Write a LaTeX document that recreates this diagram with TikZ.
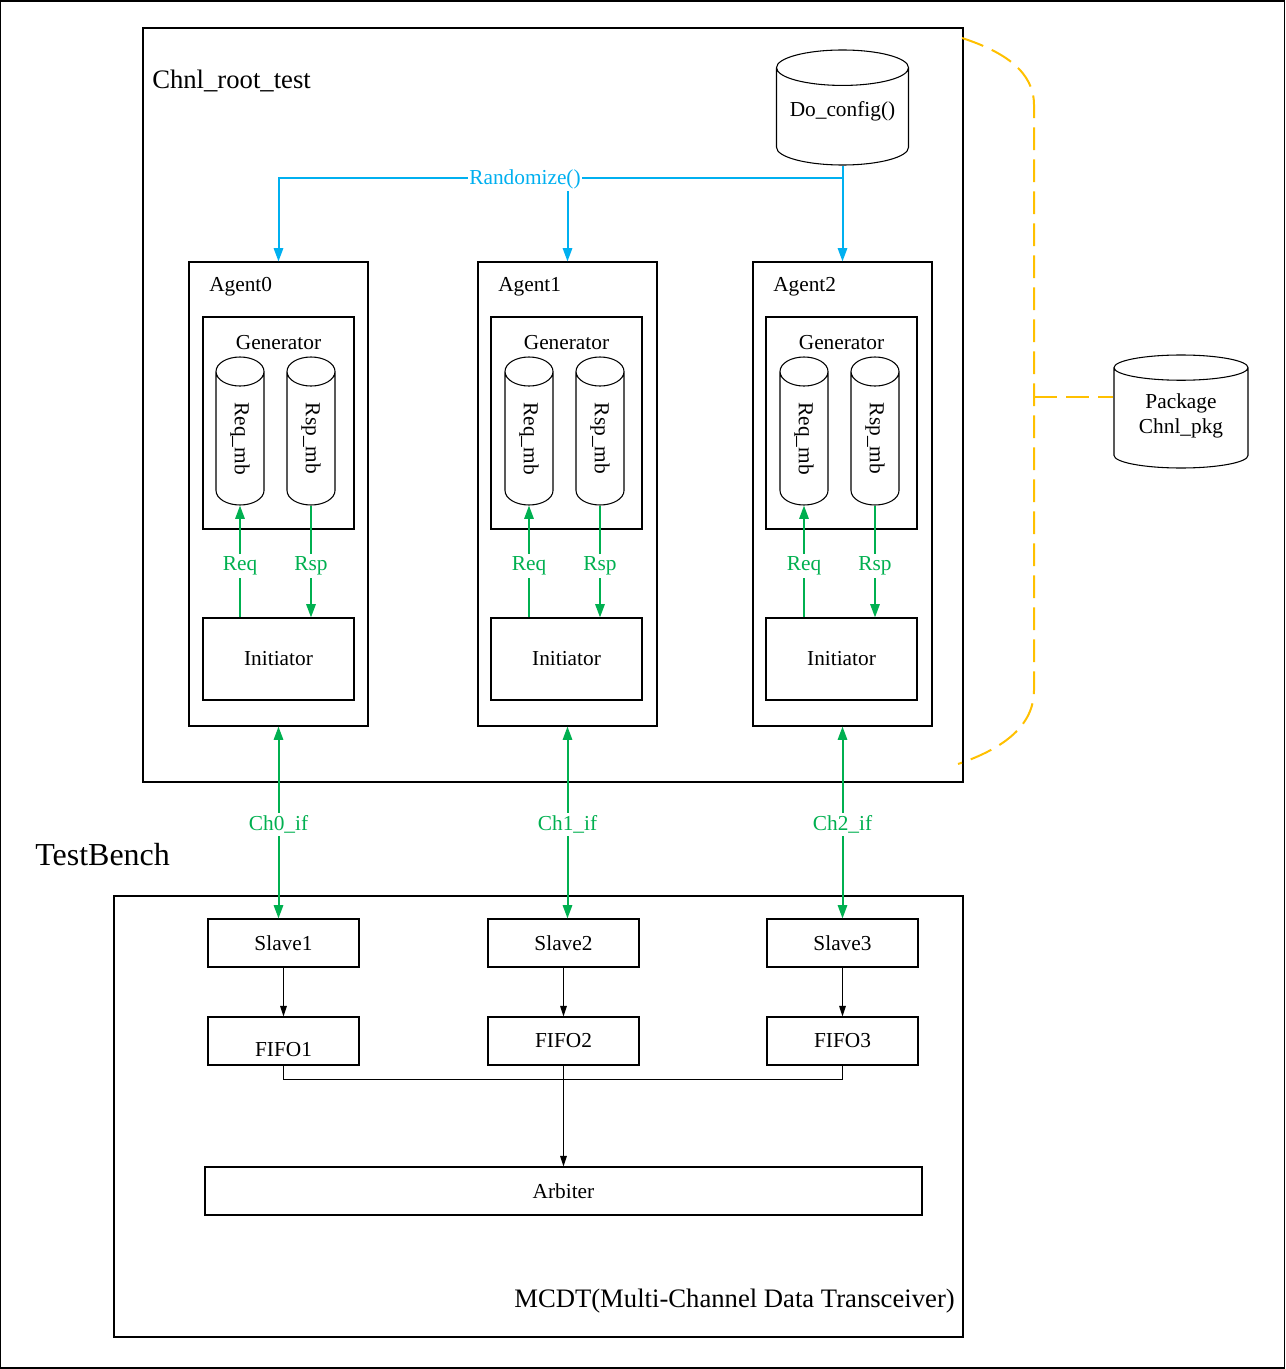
\documentclass[tikz,border=0pt]{standalone}
\usepackage{fontspec}
\usepackage{graphicx}
\setmainfont{Liberation Serif}
\usetikzlibrary{shapes.geometric,arrows.meta}
\definecolor{cfgblue}{HTML}{00B0F0}
\definecolor{sigreen}{HTML}{00B050}
\definecolor{pkgyellow}{HTML}{FFC000}

\begin{document}
\begin{tikzpicture}[
    x=0.75pt, y=-0.75pt,
    font=\fontsize{16}{19}\selectfont,
    frame/.style={draw, line width=0.8pt, inner sep=0pt},
    agentbox/.style={frame, minimum width=134.25pt, minimum height=348pt},
    genbox/.style={frame, minimum width=113.25pt, minimum height=159pt},
    initbox/.style={frame, minimum width=113.25pt, minimum height=61.5pt},
    unitbox/.style={frame, minimum width=113.25pt, minimum height=36pt},
    mailbox/.style={
        draw, line width=0.8pt, cylinder, shape border rotate=90, aspect=1.5,
        minimum width=36pt, minimum height=111pt, inner sep=0pt, anchor=shape center
    },
    dbase/.style={
        draw, line width=0.8pt, cylinder, shape border rotate=90,
        align=center, inner sep=0pt, anchor=shape center
    },
    caption/.style={anchor=west, inner sep=0pt},
    bluearrow/.style={-{Triangle[length=10pt,width=7pt]}, cfgblue, line width=1.5pt},
    greenarrow/.style={-{Triangle[length=10pt,width=7pt]}, sigreen, line width=1.5pt},
    linkarrow/.style={{Triangle[length=10pt,width=7pt]}-{Triangle[length=10pt,width=7pt]}, sigreen, line width=1.5pt},
    blackarrow/.style={-{Triangle[length=8pt,width=5pt]}, line width=0.8pt},
    bluenote/.style={text=cfgblue, fill=white, inner sep=1pt},
    greennote/.style={text=sigreen, fill=white, inner sep=2pt},
    brace/.style={pkgyellow, line width=1.5pt, dash pattern=on 17pt off 7pt}
]
\useasboundingbox (0,0) rectangle (1285,1369);

% Whole testbench frame
\node[frame, minimum width=963pt, minimum height=1025.25pt] (tb) at (642.5,684.5) {};

% Test case
\node[frame, minimum width=615pt, minimum height=565.5pt] (root) at (553,405) {};
\node[caption, font=\fontsize{20}{24}\selectfont] (rootlbl) at (152,81) {Chnl\_root\_test};
\node[dbase, aspect=0.336, minimum width=99pt, minimum height=86.25pt, text depth=11.5pt] (doconf) at (842.5,107.5) {Do\_config()};

% Agents
\node[agentbox] (agent0) at (278.5,494) {};
\node[caption] (alab0) at (209,287) {Agent0};
\node[genbox] (gen0) at (278.5,423) {};
\node (glab0) at (278.5,343) {Generator};
\node[mailbox] (req0) at (240,431) {\rotatebox{-90}{Req\_mb}};
\node[mailbox] (rsp0) at (311,431) {\rotatebox{-90}{Rsp\_mb}};
\node[initbox] (init0) at (278.5,659) {Initiator};

\node[agentbox] (agent1) at (567.5,494) {};
\node[caption] (alab1) at (498,287) {Agent1};
\node[genbox] (gen1) at (566.5,423) {};
\node (glab1) at (566.5,343) {Generator};
\node[mailbox] (req1) at (529,431) {\rotatebox{-90}{Req\_mb}};
\node[mailbox] (rsp1) at (600,431) {\rotatebox{-90}{Rsp\_mb}};
\node[initbox] (init1) at (566.5,659) {Initiator};

\node[agentbox] (agent2) at (842.5,494) {};
\node[caption] (alab2) at (773,287) {Agent2};
\node[genbox] (gen2) at (841.5,423) {};
\node (glab2) at (841.5,343) {Generator};
\node[mailbox] (req2) at (804,431) {\rotatebox{-90}{Req\_mb}};
\node[mailbox] (rsp2) at (875,431) {\rotatebox{-90}{Rsp\_mb}};
\node[initbox] (init2) at (841.5,659) {Initiator};

% Randomize() from the config
\coordinate (ry) at (0,178);
\draw[bluearrow] (doconf.south) -- (doconf.south |- ry) -| (agent0.north);
\draw[bluearrow] (doconf.south |- ry) -- (agent2.north);
\draw[bluearrow] (agent1.north |- ry) -- (agent1.north);
\node[bluenote] (rnd) at (525,179.5) {Randomize()};

% Req / Rsp inside the agents
\draw[greenarrow] (init0.north -| req0.south) -- node[greennote, pos=0.46] (rq0) {Req} (req0.south);
\draw[greenarrow] (rsp0.south) -- node[greennote, pos=0.54] (rs0) {Rsp} (rsp0.south |- init0.north);
\draw[greenarrow] (init1.north -| req1.south) -- node[greennote, pos=0.46] (rq1) {Req} (req1.south);
\draw[greenarrow] (rsp1.south) -- node[greennote, pos=0.54] (rs1) {Rsp} (rsp1.south |- init1.north);
\draw[greenarrow] (init2.north -| req2.south) -- node[greennote, pos=0.46] (rq2) {Req} (req2.south);
\draw[greenarrow] (rsp2.south) -- node[greennote, pos=0.54] (rs2) {Rsp} (rsp2.south |- init2.north);

% DUT
\node[caption, font=\fontsize{24}{28}\selectfont] (tblbl) at (35,855) {TestBench};
\node[frame, minimum width=636.75pt, minimum height=330.75pt] (mcdt) at (538.5,1116.5) {};
\node[inner sep=0pt, font=\fontsize{20}{24}\selectfont] (mcdtlbl) at (734.5,1301) {MCDT(Multi-Channel Data Transceiver)};

\node[unitbox] (slave1) at (283.5,943) {Slave1};
\node[unitbox] (slave2) at (563.5,943) {Slave2};
\node[unitbox] (slave3) at (842.5,943) {Slave3};
\node[unitbox, text height=23pt, text depth=0pt] (fifo1) at (283.5,1041) {FIFO1};
\node[unitbox] (fifo2) at (563.5,1041) {FIFO2};
\node[unitbox] (fifo3) at (842.5,1041) {FIFO3};
\node[frame, minimum width=537.75pt, minimum height=36pt] (arbiter) at (563.5,1191) {Arbiter};

\draw[blackarrow] (slave1) -- (fifo1);
\draw[blackarrow] (slave2) -- (fifo2);
\draw[blackarrow] (slave3) -- (fifo3);
\draw[line width=0.8pt] (fifo1.south) -- ++(0,14) -| (fifo3.south);
\draw[blackarrow] (fifo2.south) -- (arbiter.north);

% Channel interfaces
\draw[linkarrow] (agent0.south) -- node[greennote, pos=0.51] (ch0) {Ch0\_if} (agent0.south |- slave1.north);
\draw[linkarrow] (agent1.south) -- node[greennote, pos=0.51] (ch1) {Ch1\_if} (agent1.south |- slave2.north);
\draw[linkarrow] (agent2.south) -- node[greennote, pos=0.51] (ch2) {Ch2\_if} (agent2.south |- slave3.north);

% Package
\node[dbase, aspect=0.3, minimum width=100.5pt, minimum height=84.75pt, text depth=7pt] (pkg) at (1181,411.5) {Package\\Chnl\_pkg};
\draw[brace] (962,38) .. controls (1005,52) and (1034,72) .. (1034,105)
    -- (1034,690) .. controls (1034,725) and (1005,748) .. (958,764);
\coordinate (bmid) at (1034,397);
\draw[brace] (bmid) -- (bmid -| pkg.west);

\end{tikzpicture}
\end{document}
